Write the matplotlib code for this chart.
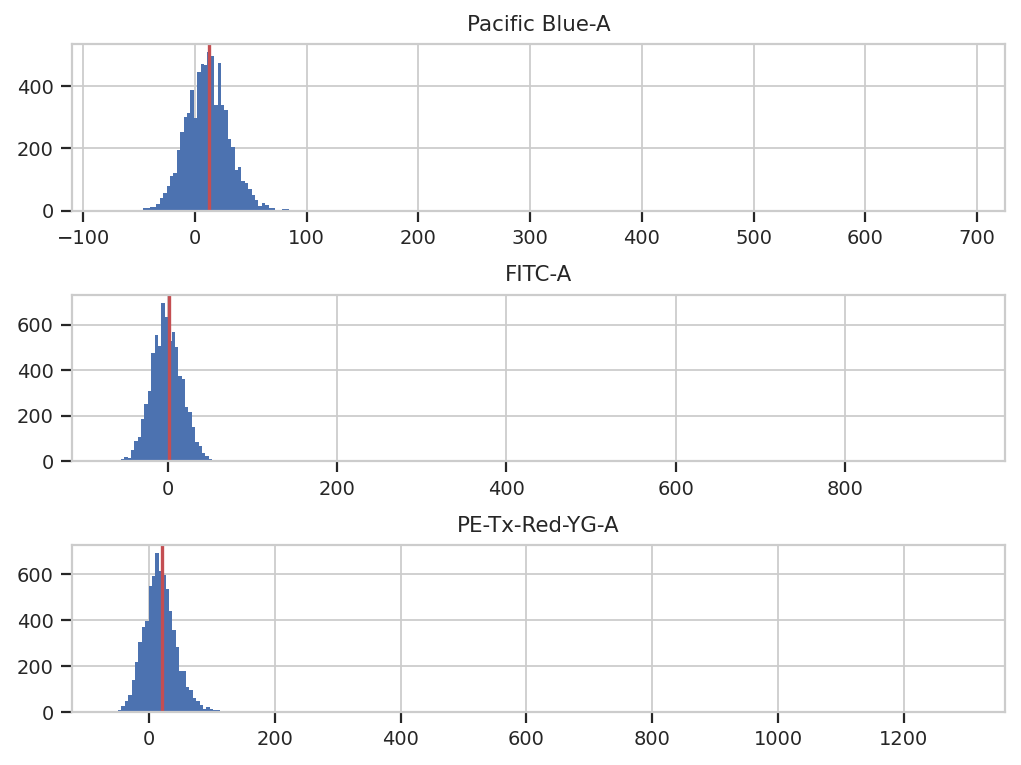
import numpy as np
import matplotlib
matplotlib.use("Agg")
import matplotlib.pyplot as plt
import seaborn as sns

# ---- data ----
titles = ["Pacific Blue-A", "FITC-A", "PE-Tx-Red-YG-A"]

pb_first_edge = -46.5
pb_bin_width = 3.04
pb_counts = [9, 9, 13, 13, 22, 40, 57, 78, 112, 122, 194, 252, 301, 314, 389, 298,
             444, 472, 467, 510, 498, 340, 473, 338, 323, 229, 205, 131, 142, 97,
             88, 71, 52, 35, 14, 25, 17, 10, 10, 0, 0, 6, 6]
pb_outlier_left = [-72.0, 684.0]
pb_outlier_counts = [1, 1]
pb_marker = 13.0

fitc_first_edge = -55.5
fitc_bin_width = 4.0
fitc_counts = [12, 21, 15, 50, 91, 109, 184, 250, 307, 476, 556, 506, 697, 635,
               527, 570, 501, 376, 360, 238, 218, 153, 85, 68, 38, 24, 12, 6]
fitc_outlier_left = [-63.0, 935.0]
fitc_outlier_counts = [1, 1]
fitc_marker = 1.5

pe_first_edge = -49.3
pe_bin_width = 5.4
pe_counts = [7, 26, 47, 74, 141, 218, 306, 370, 397, 550, 590, 691, 614, 595, 535,
             441, 357, 284, 179, 179, 109, 95, 63, 48, 31, 15, 23, 15, 9, 9, 4, 4,
             4, 0, 0, 0, 0, 4]
pe_outlier_left = [-55.0, 745.0, 1288.0]
pe_outlier_counts = [1, 4, 1]
pe_marker = 20.7

channels = [
    (pb_first_edge, pb_bin_width, pb_counts, pb_outlier_left, pb_outlier_counts, pb_marker),
    (fitc_first_edge, fitc_bin_width, fitc_counts, fitc_outlier_left, fitc_outlier_counts, fitc_marker),
    (pe_first_edge, pe_bin_width, pe_counts, pe_outlier_left, pe_outlier_counts, pe_marker),
]

# ---- style ----
sns.set_theme(context="paper", style="whitegrid")
plt.rcParams["xtick.bottom"] = True
plt.rcParams["ytick.left"] = True

W, H = 1021, 765
fig, axes = plt.subplots(3, 1, figsize=(W / 160, H / 160), dpi=160)
fig.subplots_adjust(left=72 / W, right=1005 / W, top=1 - 44 / H, bottom=1 - 712 / H,
                    hspace=84 / 167)

for ax, title, (first, w, counts, out_left, out_counts, marker) in zip(axes, titles, channels):
    lefts = first + w * np.arange(len(counts))
    ax.bar(lefts, counts, width=w, align="edge", color="C0", linewidth=0)
    ax.bar(out_left, out_counts, width=w, align="edge", color="C0", linewidth=0)
    ax.axvline(marker, color="r", linewidth=1.5)
    ax.set_title(title)

fig.savefig("out.png", dpi=160)
